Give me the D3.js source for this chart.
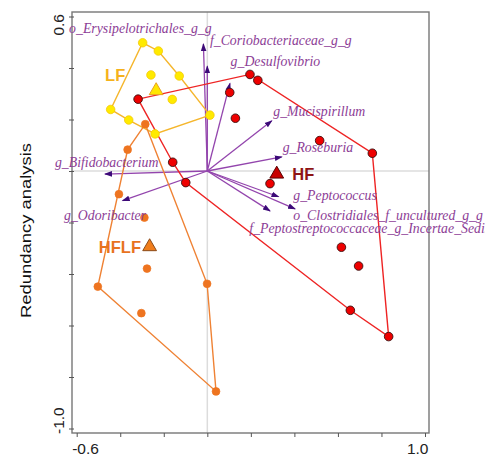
<!DOCTYPE html>
<html>
<head>
<meta charset="utf-8">
<script src="https://cdn.jsdelivr.net/npm/d3@7"></script>
<style>
  html, body { margin: 0; padding: 0; background: #fff; }
  svg { display: block; }
</style>
</head>
<body>
<svg id="chart" width="485" height="459"></svg>
<script>
// ---- RDA site scores per diet group ----
const groupNames = ["LF", "HF", "HFLF"];

const lfSites = [
  [-0.297, 0.498], [-0.225, 0.466], [-0.129, 0.369], [-0.259, 0.373],
  [-0.161, 0.278], [0.012, 0.217], [-0.240, 0.144], [-0.361, 0.198],
  [-0.444, 0.239]
];
const hfSites = [
  [0.196, 0.375], [0.232, 0.352], [0.103, 0.305], [0.129, 0.205],
  [-0.318, 0.279], [-0.159, 0.034], [-0.099, -0.045], [0.516, 0.118],
  [0.758, 0.069], [0.288, -0.049], [0.616, -0.296], [0.695, -0.369],
  [0.657, -0.541], [0.833, -0.643]
];
const hflfSites = [
  [-0.285, 0.182], [-0.366, 0.083], [-0.406, -0.090], [-0.289, -0.181],
  [-0.277, -0.379], [-0.503, -0.449], [-0.001, -0.438], [-0.303, -0.552],
  [0.040, -0.856]
];
// group centroids
const centroids = [[-0.235, 0.312], [0.319, -0.012], [-0.265, -0.294]];

// ---- taxa biplot arrows ----
const taxa = [
  "o_Erysipelotrichales_g_g", "f_Coriobacteriaceae_g_g", "g_Desulfovibrio",
  "g_Mucispirillum", "g_Roseburia", "g_Peptococcus",
  "o_Clostridiales_f_uncultured_g_g", "f_Peptostreptococcaceae_g_Incertae_Sedis",
  "g_Bifidobacterium", "g_Odoribacter"
];
const arrowX = [-0.018, 0.000, 0.104, 0.296, 0.342, 0.327, 0.403, 0.288, -0.470, -0.389];
const arrowY = [0.493, 0.407, 0.340, 0.195, 0.055, -0.100, -0.147, -0.155, -0.012, -0.115];
// where each taxon name sits (start of text, baseline)
const taxonLabelX = [-0.635, 0.012, 0.107, 0.303, 0.346, 0.395, 0.395, 0.193, -0.700, -0.658];
const taxonLabelY = [0.536, 0.489, 0.407, 0.213, 0.075, -0.113, -0.190, -0.241, 0.016, -0.192];

// ---- axes ----
const xTicks = [-0.6, -0.4, -0.2, 0.0, 0.2, 0.4, 0.6, 0.8, 1.0];
const yTicks = [0.6, 0.4, 0.2, 0.0, -0.2, -0.4, -0.6, -0.8, -1.0];
const xTickLabels = ["-0.6", "", "", "", "", "", "", "", "1.0"];
const yTickLabels = ["0.6", "", "", "", "", "", "", "", "-1.0"];
const yTitle = "Redundancy analysis";

// ---- drawing ----
const svg = d3.select("#chart");
const frame = { left: 72, right: 429, top: 12, bottom: 433 };

const x = d3.scaleLinear().domain([-0.6, 1.0]).range([76.7, 425]);
const y = d3.scaleLinear().domain([0.6, -1.0]).range([16.5, 428.5]);

const colors = {
  LF:   { hull: "#f5b62c", fill: "#ffea00", stroke: "#f2c400", tri: "#ffe600", triStroke: "#e8a020", text: "#f5b21c" },
  HF:   { hull: "#ee2424", fill: "#ee0000", stroke: "#3a1010", tri: "#c80000", triStroke: "#5a0000", text: "#8e1414" },
  HFLF: { hull: "#ef8234", fill: "#ee7420", stroke: "#ee7420", tri: "#f07d1c", triStroke: "#8a4a1a", text: "#e8731f" }
};

// reference lines through the origin
svg.append("line")
  .attr("x1", x(0)).attr("x2", x(0)).attr("y1", frame.top).attr("y2", frame.bottom)
  .attr("stroke", "#dcdcdc").attr("stroke-width", 1.5);
svg.append("line")
  .attr("x1", frame.left).attr("x2", frame.right).attr("y1", y(0)).attr("y2", y(0))
  .attr("stroke", "#dcdcdc").attr("stroke-width", 1.5);

// frame
svg.append("rect")
  .attr("x", frame.left).attr("y", frame.top)
  .attr("width", frame.right - frame.left).attr("height", frame.bottom - frame.top)
  .attr("fill", "none").attr("stroke", "#777").attr("stroke-width", 1.4);

// bottom axis
const xAxis = d3.axisBottom(x).tickValues(xTicks).tickSize(4)
  .tickFormat((d, i) => xTickLabels[i]);
const gx = svg.append("g").attr("transform", `translate(0,${frame.bottom})`).call(xAxis);
gx.select(".domain").remove();
gx.selectAll(".tick line").attr("stroke", "#555");
gx.selectAll(".tick text")
  .attr("font-family", "Liberation Sans, Arial, sans-serif")
  .attr("font-size", 15.5).attr("fill", "#222")
  .attr("y", 10).attr("dy", "0.71em")
  .attr("text-anchor", (d, i) => i === 0 ? "start" : (i === xTicks.length - 1 ? "end" : "middle"))
  .attr("dx", (d, i) => i === 0 ? -5 : (i === xTicks.length - 1 ? 3 : 0));

// left axis
const yAxis = d3.axisLeft(y).tickValues(yTicks).tickSize(3)
  .tickFormat((d, i) => yTickLabels[i]);
const gy = svg.append("g").attr("transform", `translate(${frame.left},0)`).call(yAxis);
gy.select(".domain").remove();
gy.selectAll(".tick line").attr("stroke", "#555").attr("x2", -3).attr("x1", 2);
gy.selectAll(".tick text")
  .attr("font-family", "Liberation Sans, Arial, sans-serif")
  .attr("font-size", 15.5).attr("fill", "#222")
  .attr("x", null).attr("dy", null)
  .attr("transform", (d, i) => {
    const off = i === 0 ? -3 : (i === yTicks.length - 1 ? 5 : 0);
    return `translate(-8.5,${off}) rotate(-90)`;
  })
  .attr("text-anchor", (d, i) => i === 0 ? "end" : (i === yTicks.length - 1 ? "start" : "middle"));

// axis title
svg.append("text")
  .attr("transform", `translate(31,230.5) rotate(-90)`)
  .attr("text-anchor", "middle")
  .attr("font-family", "Liberation Sans, Arial, sans-serif")
  .attr("font-size", 15.5).attr("fill", "#111")
  .attr("textLength", 175).attr("lengthAdjust", "spacingAndGlyphs")
  .text(yTitle);

// arrowhead marker
svg.append("defs").append("marker")
  .attr("id", "head")
  .attr("markerUnits", "userSpaceOnUse")
  .attr("markerWidth", 10).attr("markerHeight", 8)
  .attr("viewBox", "0 -4 10 8")
  .attr("refX", 7).attr("refY", 0)
  .attr("orient", "auto")
  .append("path")
  .attr("d", "M0,-2.8L8,0L0,2.8Z")
  .attr("fill", "#3c0a78");

// taxa arrows
svg.append("g").selectAll("line").data(taxa).join("line")
  .attr("x1", x(0)).attr("y1", y(0))
  .attr("x2", (d, i) => x(arrowX[i])).attr("y2", (d, i) => y(arrowY[i]))
  .attr("stroke", "#9345ad").attr("stroke-width", 1.3)
  .attr("marker-end", "url(#head)");

// group hulls
const groups = [lfSites, hfSites, hflfSites];
const hullG = svg.append("g");
groups.forEach((pts, gi) => {
  const hull = d3.polygonHull(pts.map(p => [x(p[0]), y(p[1])]));
  hullG.append("path")
    .attr("d", "M" + hull.join("L") + "Z")
    .attr("fill", "none")
    .attr("stroke", colors[groupNames[gi]].hull)
    .attr("stroke-width", 1.4);
});

// site points
groups.forEach((pts, gi) => {
  const c = colors[groupNames[gi]];
  svg.append("g").selectAll("circle").data(pts).join("circle")
    .attr("cx", d => x(d[0])).attr("cy", d => y(d[1]))
    .attr("r", gi === 2 ? 3.9 : 4.3)
    .attr("fill", c.fill)
    .attr("stroke", c.stroke)
    .attr("stroke-width", gi === 1 ? 0.9 : 0.7);
});

// centroid triangles
const tri = d3.symbol().type(d3.symbolTriangle).size(82);
svg.append("g").selectAll("path").data(centroids).join("path")
  .attr("transform", d => `translate(${x(d[0])},${y(d[1])})`)
  .attr("d", tri)
  .attr("fill", (d, i) => colors[groupNames[i]].tri)
  .attr("stroke", (d, i) => colors[groupNames[i]].triStroke)
  .attr("stroke-width", 1);

// group names next to their centroids
const groupLabelOffset = [[-41, -15.7], [26.6, 0], [-29.7, 0.6]];
svg.append("g").selectAll("text").data(groupNames).join("text")
  .attr("x", (d, i) => x(centroids[i][0]) + groupLabelOffset[i][0])
  .attr("y", (d, i) => y(centroids[i][1]) + groupLabelOffset[i][1] + 6)
  .attr("text-anchor", "middle")
  .attr("font-family", "Liberation Sans, Arial, sans-serif")
  .attr("font-weight", "bold")
  .attr("font-size", 16.5)
  .attr("fill", d => colors[d].text)
  .text(d => d);

// taxa names
svg.append("g").selectAll("text").data(taxa).join("text")
  .attr("x", (d, i) => x(taxonLabelX[i]))
  .attr("y", (d, i) => y(taxonLabelY[i]))
  .attr("font-family", "Liberation Serif, Times New Roman, serif")
  .attr("font-style", "italic")
  .attr("font-size", 13.8)
  .attr("fill", "#8c3d96")
  .text(d => d);
</script>
</body>
</html>
